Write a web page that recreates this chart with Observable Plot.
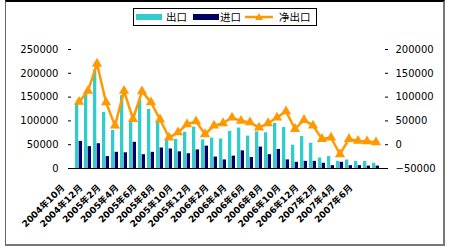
<!DOCTYPE html>
<html><head><meta charset="utf-8">
<script src="https://cdn.jsdelivr.net/npm/d3@7"></script>
<script src="https://cdn.jsdelivr.net/npm/@observablehq/plot@0.6"></script>
<style>
body{margin:0;background:#fff;}
#wrap{position:relative;width:450px;height:250px;overflow:hidden;background:#fff;}
#frame{position:absolute;left:5px;top:0;width:437px;height:242px;border-top:2px solid #000;border-left:1px solid #666;border-right:2px solid #777;border-bottom:2px solid #777;pointer-events:none;}
#legend{position:absolute;left:133px;top:8px;width:182px;height:16px;border:1px solid #000;background:#fff;font-family:"Noto Sans CJK SC",sans-serif;font-size:10.5px;line-height:16px;color:#000;}
#legend .sw{position:absolute;top:5px;height:6px;width:26px;}
#legend .lt{position:absolute;top:0;}
</style>
</head><body>
<div id="wrap"><div id="chart"></div>
<div id="legend">
 <span class="sw" style="left:2px;background:#33CCCC"></span><span class="lt" style="left:32px">出口</span>
 <span class="sw" style="left:59px;background:#000066"></span><span class="lt" style="left:86px">进口</span>
 <svg style="position:absolute;left:111px;top:2px" width="28" height="12"><line x1="0" y1="6" x2="28" y2="6" stroke="#FF9900" stroke-width="2.5"/><path d="M14,2 L18,9 L10,9 Z" fill="#FF9900"/></svg>
 <span class="lt" style="left:145px">净出口</span>
</div>
<div id="frame"></div>
</div>
<script>
const months = ["2004年10月","2004年11月","2004年12月","2005年1月","2005年2月","2005年3月","2005年4月","2005年5月","2005年6月","2005年7月","2005年8月","2005年9月","2005年10月","2005年11月","2005年12月","2006年1月","2006年2月","2006年3月","2006年4月","2006年5月","2006年6月","2006年7月","2006年8月","2006年9月","2006年10月","2006年11月","2006年12月","2007年1月","2007年2月","2007年3月","2007年4月","2007年5月","2007年6月","2007年7月"];
const exportsV = [136000,157000,207000,118000,80000,153000,101000,144000,124000,97000,59000,61000,76000,87000,60000,64000,62000,78000,85000,68000,77000,75000,95000,86000,49000,67000,53000,22000,25000,15000,18000,15000,15000,11000];
const importsV = [57000,46000,52000,25000,34000,33000,55000,29000,34000,43000,41000,35000,31000,39000,47000,24000,18000,26000,37000,23000,45000,29000,40000,18000,13000,15000,15000,11000,6000,13000,6000,6000,5000,5000];
const netV = [90000,113000,170000,89000,40000,113000,54000,112000,89000,53000,15000,26000,43000,49000,22000,40000,45000,57000,50000,47000,36000,45000,57000,70000,33000,52000,40000,12000,15000,-20000,12000,8000,7000,5000];
const tickLabels = ["2004年10月","2004年12月","2005年2月","2005年4月","2005年6月","2005年8月","2005年10月","2005年12月","2006年2月","2006年4月","2006年6月","2006年8月","2006年10月","2006年12月","2007年2月","2007年4月","2007年6月"];
const leftTicks = [0,50000,100000,150000,200000,250000];
const rightTicks = [-50000,0,50000,100000,150000,200000];

const leftDomain = [leftTicks[0], leftTicks[leftTicks.length-1]];
const offset = leftTicks[0] - rightTicks[0];
const rows = months.map((m,i)=>({m, exp: exportsV[i], imp: importsV[i], net: netV[i]}));
const fmt = d3.format("d");

const chart = Plot.plot({
  width: 450, height: 250,
  marginLeft: 68, marginRight: 63, marginTop: 49, marginBottom: 82,
  style: {fontFamily: "'DejaVu Sans','Noto Sans CJK SC',sans-serif", fontSize: "10px", color: "#000", background: "transparent"},
  x: {type: "band", domain: months, padding: 0.2, axis: null},
  y: {domain: leftDomain},
  marks: [
    Plot.barY(rows, {x: "m", y: "exp", fill: "#33CCCC", insetLeft: 0, insetRight: 3.7}),
    Plot.barY(rows, {x: "m", y: "imp", fill: "#000066", insetLeft: 3.7, insetRight: 0}),
    Plot.ruleY([leftDomain[0]], {stroke: "#000"}),
    Plot.axisY({anchor: "left", ticks: leftTicks, tickFormat: fmt, tickSize: -3, tickPadding: 13, line: true, stroke: "#000", color: "#000"}),
    Plot.axisY({anchor: "right", ticks: rightTicks.map(v => v + offset), tickFormat: d => fmt(d - offset), tickSize: -3, tickPadding: 11, line: true, stroke: "#000", color: "#000"}),
    Plot.lineY(rows, {x: "m", y: d => d.net + offset, stroke: "#FF9900", strokeWidth: 2.5}),
    Plot.dot(rows, {x: "m", y: d => d.net + offset, symbol: "triangle", r: 3.8, fill: "#FF9900"}),
    Plot.text(tickLabels, {x: d => d, text: d => d, frameAnchor: "bottom", rotate: -45, textAnchor: "end", dx: -14, dy: 20, fontSize: 9, fontWeight: "bold", fill: "#000"})
  ]
});
document.getElementById("chart").appendChild(chart);
</script>
</body></html>
